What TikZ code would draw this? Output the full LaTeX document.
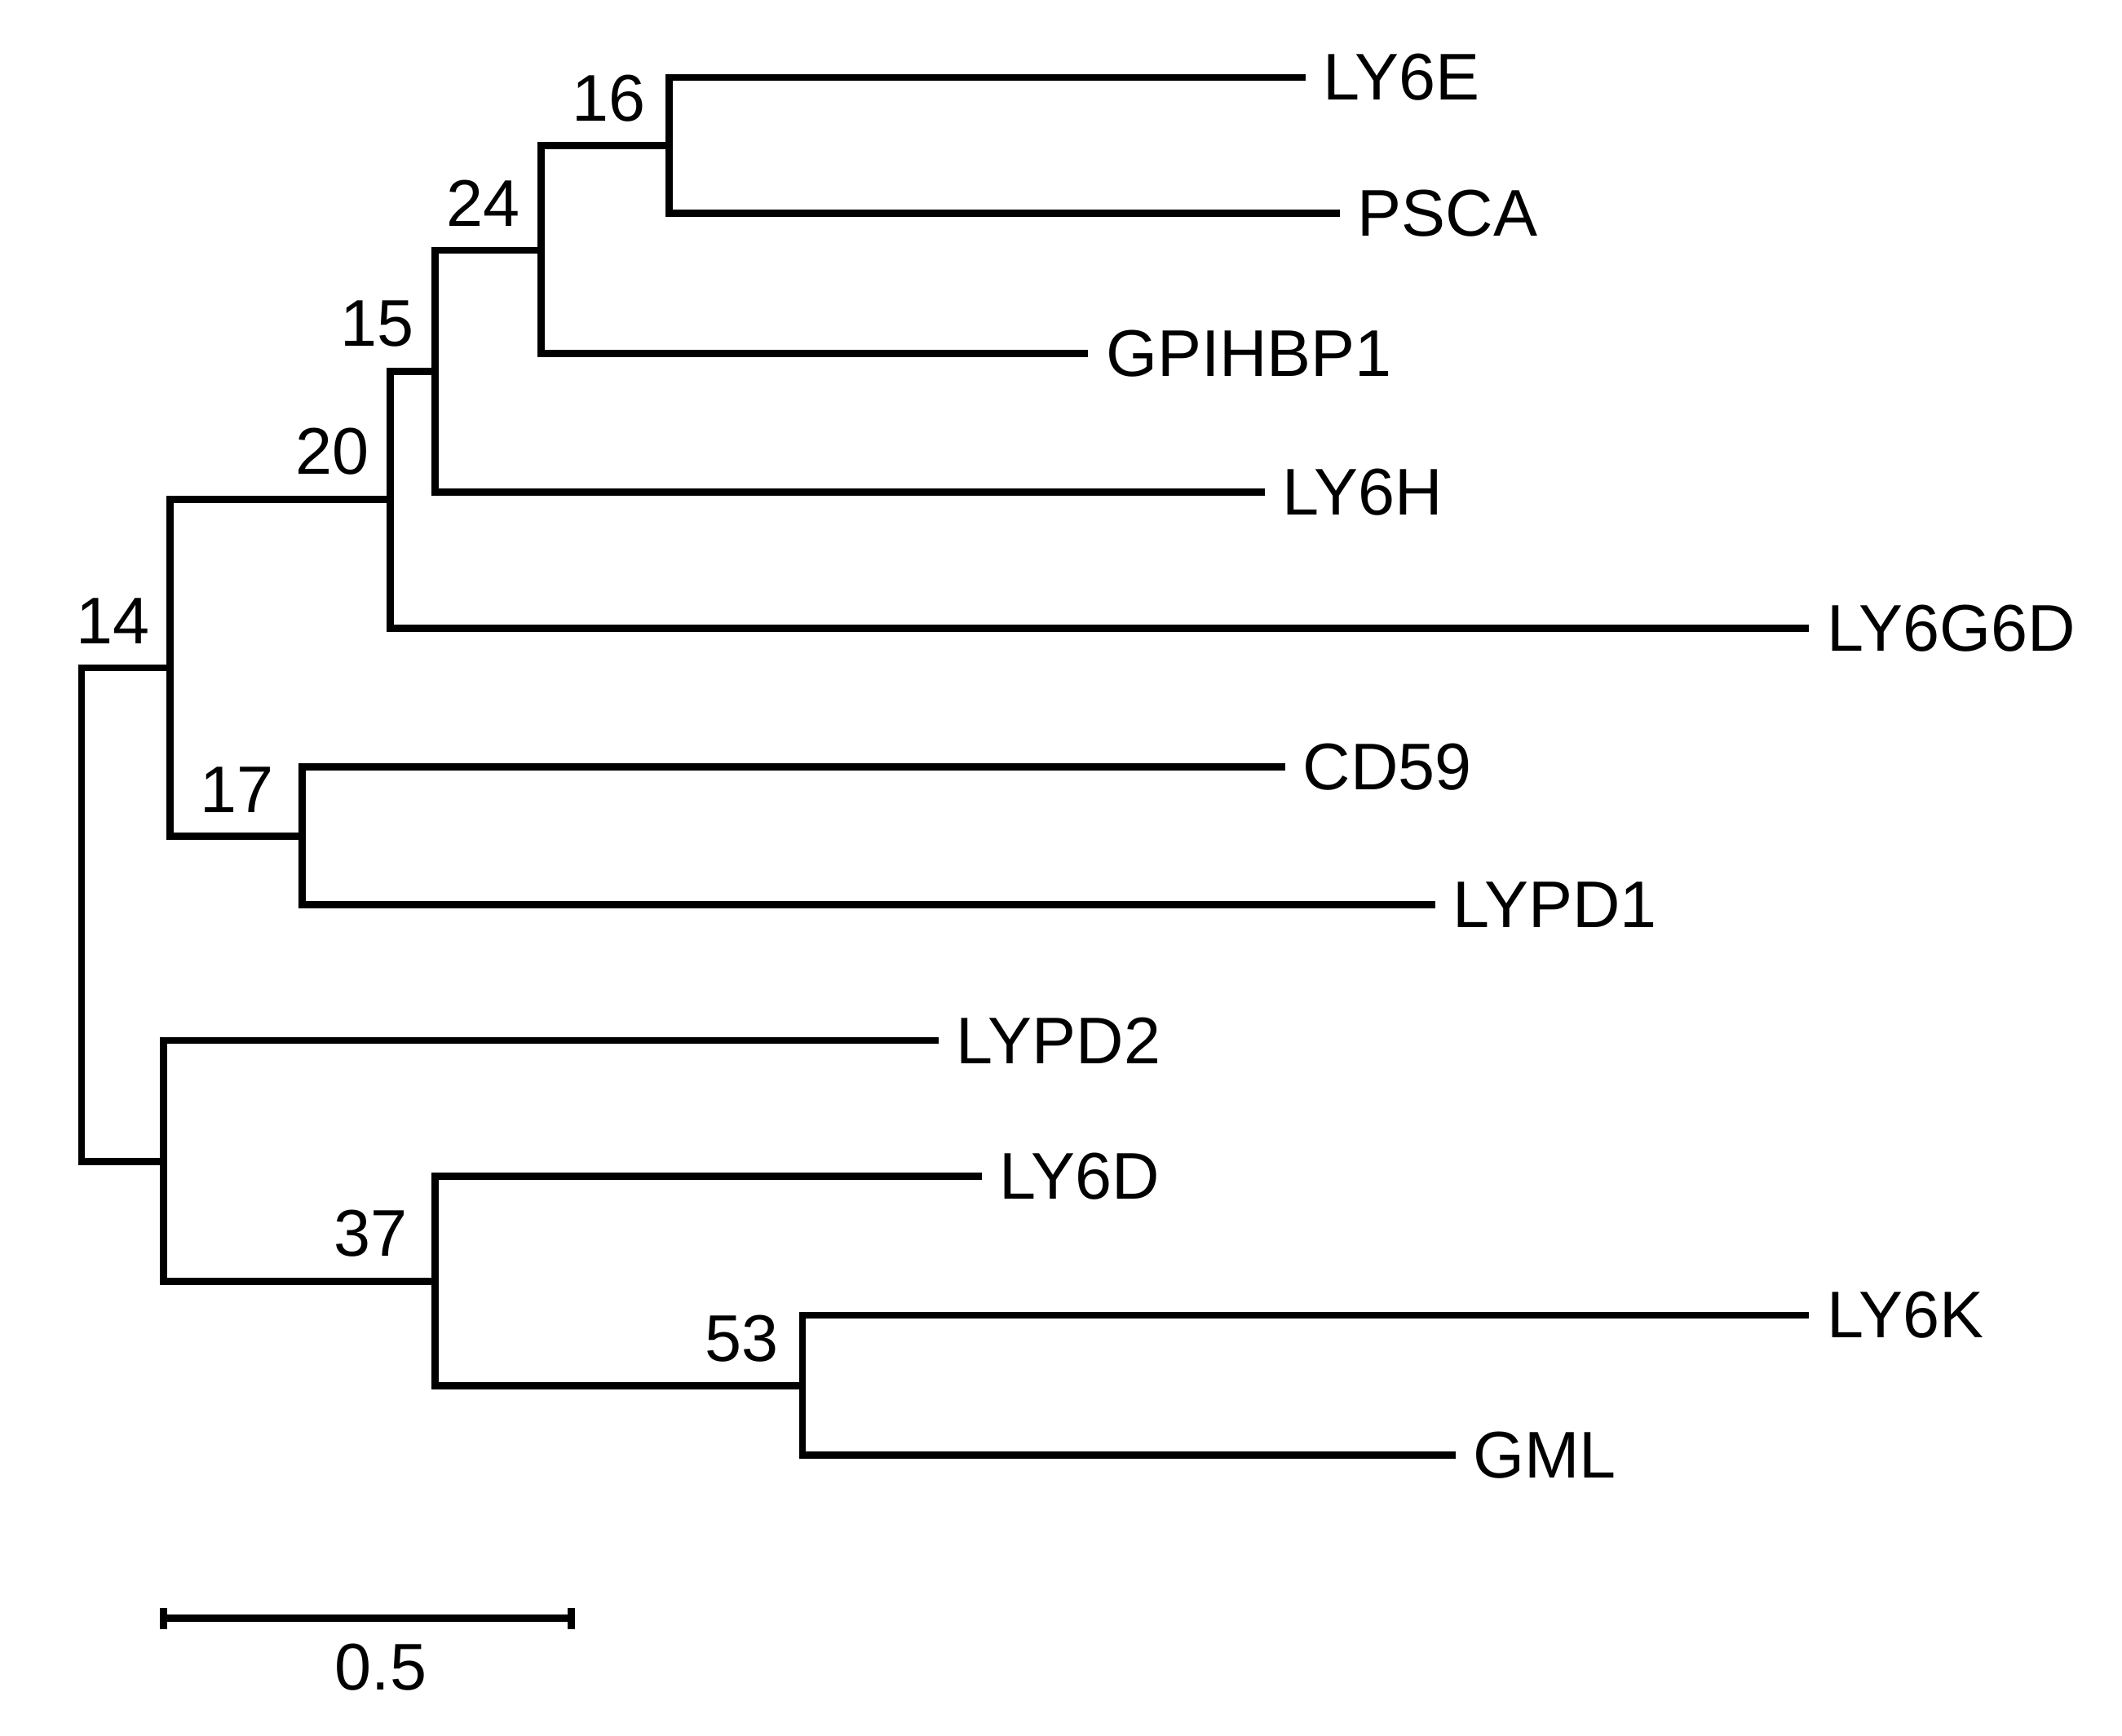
\documentclass[tikz,border=0pt]{standalone}
\usepackage{fontspec}
\setmainfont{Liberation Sans}
\usetikzlibrary{positioning}

\begin{document}
\begin{tikzpicture}[
    x=0.01cm, y=-0.01cm,
    branch/.style={line width=1.5pt},
    leaf/.style={anchor=west, inner xsep=0.13cm, inner ysep=0pt, outer sep=0pt, font=\fontsize{13.8}{16}\selectfont},
    boot/.style={anchor=south east, inner sep=2pt, font=\fontsize{13.8}{16}\selectfont}
]
\useasboundingbox (0,0) rectangle (1560,1276);

% leaves
\node[leaf] (ly6e) at (960,57) {LY6E};
\node[leaf] (psca) at (985,157) {PSCA};
\node[leaf] (gpihbp1) at (800,260) {GPIHBP1};
\node[leaf] (ly6h) at (930,362) {LY6H};
\node[leaf] (ly6g6d) at (1330,462) {LY6G6D};
\node[leaf] (cd59) at (945,564) {CD59};
\node[leaf] (lypd1) at (1055,665) {LYPD1};
\node[leaf] (lypd2) at (690,765) {LYPD2};
\node[leaf] (ly6d) at (722,865) {LY6D};
\node[leaf] (ly6k) at (1330,967) {LY6K};
\node[leaf] (gml) at (1070,1070) {GML};

% internal nodes
\coordinate (n16) at (492,107);
\coordinate (n24) at (398,184);
\coordinate (n15) at (320,273);
\coordinate (n20) at (287,367);
\coordinate (n17) at (222,615);
\coordinate (n14) at (125,491);
\coordinate (n53) at (590,1019);
\coordinate (n37) at (320,942);
\coordinate (nb) at (120,854);
\coordinate (root) at (60,672);

% branches
\draw[branch] (n16) |- (ly6e.west);
\draw[branch] (n16) |- (psca.west);
\draw[branch] (n24) |- (n16);
\draw[branch] (n24) |- (gpihbp1.west);
\draw[branch] (n15) |- (n24);
\draw[branch] (n15) |- (ly6h.west);
\draw[branch] (n20) |- (n15);
\draw[branch] (n20) |- (ly6g6d.west);
\draw[branch] (n17) |- (cd59.west);
\draw[branch] (n17) |- (lypd1.west);
\draw[branch] (n14) |- (n20);
\draw[branch] (n14) |- (n17);
\draw[branch] (n53) |- (ly6k.west);
\draw[branch] (n53) |- (gml.west);
\draw[branch] (n37) |- (ly6d.west);
\draw[branch] (n37) |- (n53);
\draw[branch] (nb) |- (lypd2.west);
\draw[branch] (nb) |- (n37);
\draw[branch] (root) |- (n14);
\draw[branch] (root) |- (nb);

% bootstrap values
\node[boot] (b16) at (482,97) {16};
\node[boot] (b24) at (390,174) {24};
\node[boot] (b15) at (312,263) {15};
\node[boot] (b20) at (279,357) {20};
\node[boot] (b14) at (118,481) {14};
\node[boot] (b17) at (209,605) {17};
\node[boot] (b37) at (307,932) {37};
\node[boot] (b53) at (580,1009) {53};

% scale bar
\coordinate (s0) at (120,1190);
\coordinate (s1) at (420,1190);
\draw[branch] (s0) -- (s1);
\draw[branch] ([yshift=-0.08cm]s0) -- ([yshift=0.08cm]s0);
\draw[branch] ([yshift=-0.08cm]s1) -- ([yshift=0.08cm]s1);
\node[font=\fontsize{13.8}{16}\selectfont] (scale) at (280,1226) {0.5};
\end{tikzpicture}
\end{document}
